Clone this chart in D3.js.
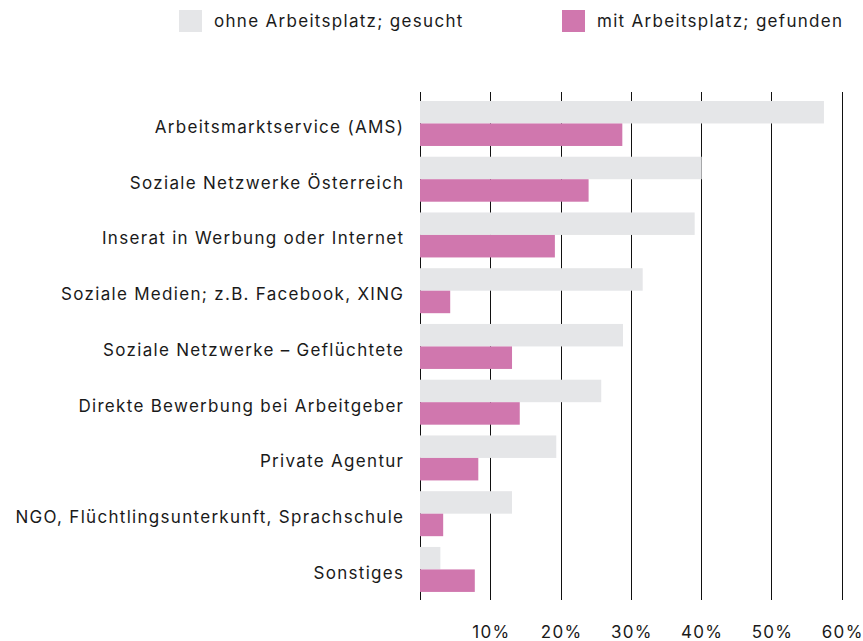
<!DOCTYPE html>
<html lang="de">
<head>
    <meta charset="UTF-8">
    <title>Arbeitssuche – Kanäle</title>
    <style>
        body, html {
            margin: 0;
            padding: 0;
            background-color: #fff;
        }
        svg text {
            font-family: Inter, "Noto Sans", sans-serif;
            font-size: 17px;
            letter-spacing: 1.3px;
            fill: #1a1a1a;
        }
    </style>
</head>
<body>
    <div id="chart"></div>

    <script src="https://d3js.org/d3.v7.min.js"></script>
    <script>
        // categories, top to bottom
        const categories = [
            "Arbeitsmarktservice (AMS)",
            "Soziale Netzwerke Österreich",
            "Inserat in Werbung oder Internet",
            "Soziale Medien; z.B. Facebook, XING",
            "Soziale Netzwerke – Geflüchtete",
            "Direkte Bewerbung bei Arbeitgeber",
            "Private Agentur",
            "NGO, Flüchtlingsunterkunft, Sprachschule",
            "Sonstiges"
        ];

        // values in percent
        const gesucht = [57.5, 40.1, 39.1, 31.7, 28.9, 25.8, 19.4, 13.1, 2.9];
        const gefunden = [28.8, 24.0, 19.2, 4.3, 13.1, 14.2, 8.3, 3.3, 7.8];

        const seriesNames = ["ohne Arbeitsplatz; gesucht", "mit Arbeitsplatz; gefunden"];
        const seriesColors = ["#e5e6e8", "#d077ae"];

        const tickValues = [0, 10, 20, 30, 40, 50, 60];

        const width = 863;
        const height = 641;

        const svg = d3.select("#chart")
            .append("svg")
            .attr("width", width)
            .attr("height", height);

        const x = d3.scaleLinear()
            .domain([0, 60])
            .range([420, 841.5]);

        const y = d3.scaleBand()
            .domain(categories)
            .range([95.4, 597.5])
            .paddingInner(0.193)
            .paddingOuter(0.1);

        const inner = d3.scaleBand()
            .domain([0, 1])
            .range([0, y.bandwidth()]);

        // gridlines (behind bars)
        svg.append("g")
            .selectAll("line")
            .data(tickValues)
            .join("line")
            .attr("x1", d => Math.round(x(d)) + 0.5)
            .attr("x2", d => Math.round(x(d)) + 0.5)
            .attr("y1", 92)
            .attr("y2", 600)
            .attr("stroke", "#111")
            .attr("stroke-width", 1);

        // bars
        const rows = categories.map((c, i) => ({ cat: c, vals: [gesucht[i], gefunden[i]] }));

        const group = svg.append("g")
            .selectAll("g")
            .data(rows)
            .join("g")
            .attr("transform", d => `translate(0,${y(d.cat)})`);

        group.selectAll("rect")
            .data(d => d.vals.map((v, k) => ({ v, k })))
            .join("rect")
            .attr("x", x(0))
            .attr("y", d => inner(d.k))
            .attr("width", d => x(d.v) - x(0))
            .attr("height", inner.bandwidth())
            .attr("fill", d => seriesColors[d.k]);

        // category labels (letter-spacing leaves a trailing gap, hence +1.3)
        svg.append("g")
            .selectAll("text")
            .data(categories)
            .join("text")
            .attr("x", 403 + 1.3)
            .attr("y", d => y(d) + y.bandwidth() / 2 + 9.5)
            .attr("text-anchor", "end")
            .text(d => d);

        // x axis labels
        const xAxis = d3.axisBottom(x)
            .tickValues(tickValues.slice(1))
            .tickSize(0)
            .tickPadding(0)
            .tickFormat(d => d + "%");

        svg.append("g")
            .attr("transform", "translate(0,625)")
            .call(xAxis)
            .call(g => g.select(".domain").remove())
            .call(g => g.selectAll("text")
                .attr("dy", null)
                .attr("x", 0.7)
                .attr("y", 13)
                .style("font-family", "Inter, 'Noto Sans', sans-serif")
                .style("font-size", "17px")
                .attr("fill", "#1a1a1a"));

        // legend
        const legendX = [179, 562];
        const legend = svg.append("g")
            .selectAll("g")
            .data(seriesNames)
            .join("g")
            .attr("transform", (d, i) => `translate(${legendX[i]},10)`);

        legend.append("rect")
            .attr("width", 23)
            .attr("height", 22)
            .attr("fill", (d, i) => seriesColors[i]);

        legend.append("text")
            .attr("x", 35)
            .attr("y", 17)
            .text(d => d);
    </script>
</body>
</html>
